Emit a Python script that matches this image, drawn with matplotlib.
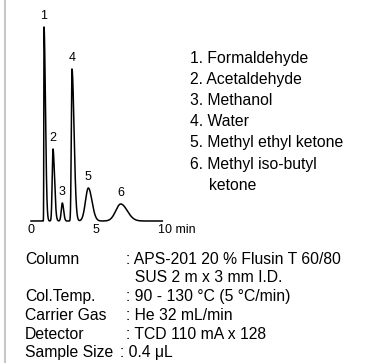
import numpy as np
import matplotlib
matplotlib.use('Agg')
from matplotlib import pyplot as plt
from matplotlib.lines import Line2D

plt.rcParams['font.family'] = ['Liberation Sans', 'DejaVu Sans']

# 峰数据 (保留时间 min, 峰高, 前沿/拖尾宽度)
peak_no = ['1', '2', '3', '4', '5', '6']
ret_time = [1.0, 1.69, 2.41, 3.15, 4.41, 6.9]
height = [194, 72, 18, 152, 33, 17]
sigma_front = [0.015, 0.06, 0.08, 0.05, 0.22, 0.38]
sigma_tail = [0.11, 0.12, 0.10, 0.16, 0.28, 0.50]

compounds = ['1. Formaldehyde', '2. Acetaldehyde', '3. Methanol', '4. Water',
             '5. Methyl ethyl ketone', '6. Methyl iso-butyl\nketone']

cond_names = ['Column', '', 'Col.Temp.', 'Carrier Gas', 'Detector', 'Sample Size']
cond_values = [': APS-201 20 % Flusin T 60/80', '  SUS 2 m x 3 mm I.D.',
               ': 90 - 130 °C (5 °C/min)', ': He 32 mL/min',
               ': TCD 110 mA x 128', ': 0.4 μL']

W, H = 381, 363
fig = plt.figure(figsize=(W / 100, H / 100), dpi=100)

# 色谱图坐标区
ax = fig.add_axes([31 / W, (H - 221) / H, 130 / W, 200 / H])
ax.set_xlim(0, 10)
ax.set_ylim(0, 200)
ax.axis('off')

t = np.linspace(0, 10.1, 4000)
signal = np.zeros_like(t)
for rt, h, sf, st in zip(ret_time, height, sigma_front, sigma_tail):
    s = np.where(t < rt, sf, st)
    signal += h * np.exp(-0.5 * ((t - rt) / s) ** 2)
ax.plot(t, signal, color='black', lw=1.1, clip_on=False)

for lab, rt, h in zip(peak_no, ret_time, height):
    ax.annotate(lab, (rt, h), xytext=(0, 8), textcoords='offset points',
                ha='center', va='center', fontsize=9)

# 横轴刻度
for x, lab in [(0, '0'), (5, '5')]:
    ax.annotate(lab, (x, 0), xytext=(0, -6.5), textcoords='offset points',
                ha='center', va='center', fontsize=9)
ax.annotate('10 min', (10, 0), xytext=(-2.5, -6.5), textcoords='offset points',
            ha='left', va='center', fontsize=9)

# 组分名称
row = 0
for name in compounds:
    for j, line in enumerate(name.split('\n')):
        x = 190 if j == 0 else 209
        fig.text(x / W, 1 - (58 + 21.2 * row) / H, line, ha='left',
                 va='center', fontsize=11.3)
        row += 1

# 分析条件
for i, (n, v) in enumerate(zip(cond_names, cond_values)):
    y = 1 - (259 + 18.8 * i) / H
    fig.text(25 / W, y, n, ha='left', va='center', fontsize=11.3)
    vx = 120 if n == 'Sample Size' else 126
    fig.text(vx / W, y, v, ha='left', va='center', fontsize=11.3)

# 左侧灰色竖线
fig.add_artist(Line2D([5 / W, 5 / W], [0, 1], color='#c8c8c8', lw=1.5))

fig.savefig('out.png', dpi=100)
